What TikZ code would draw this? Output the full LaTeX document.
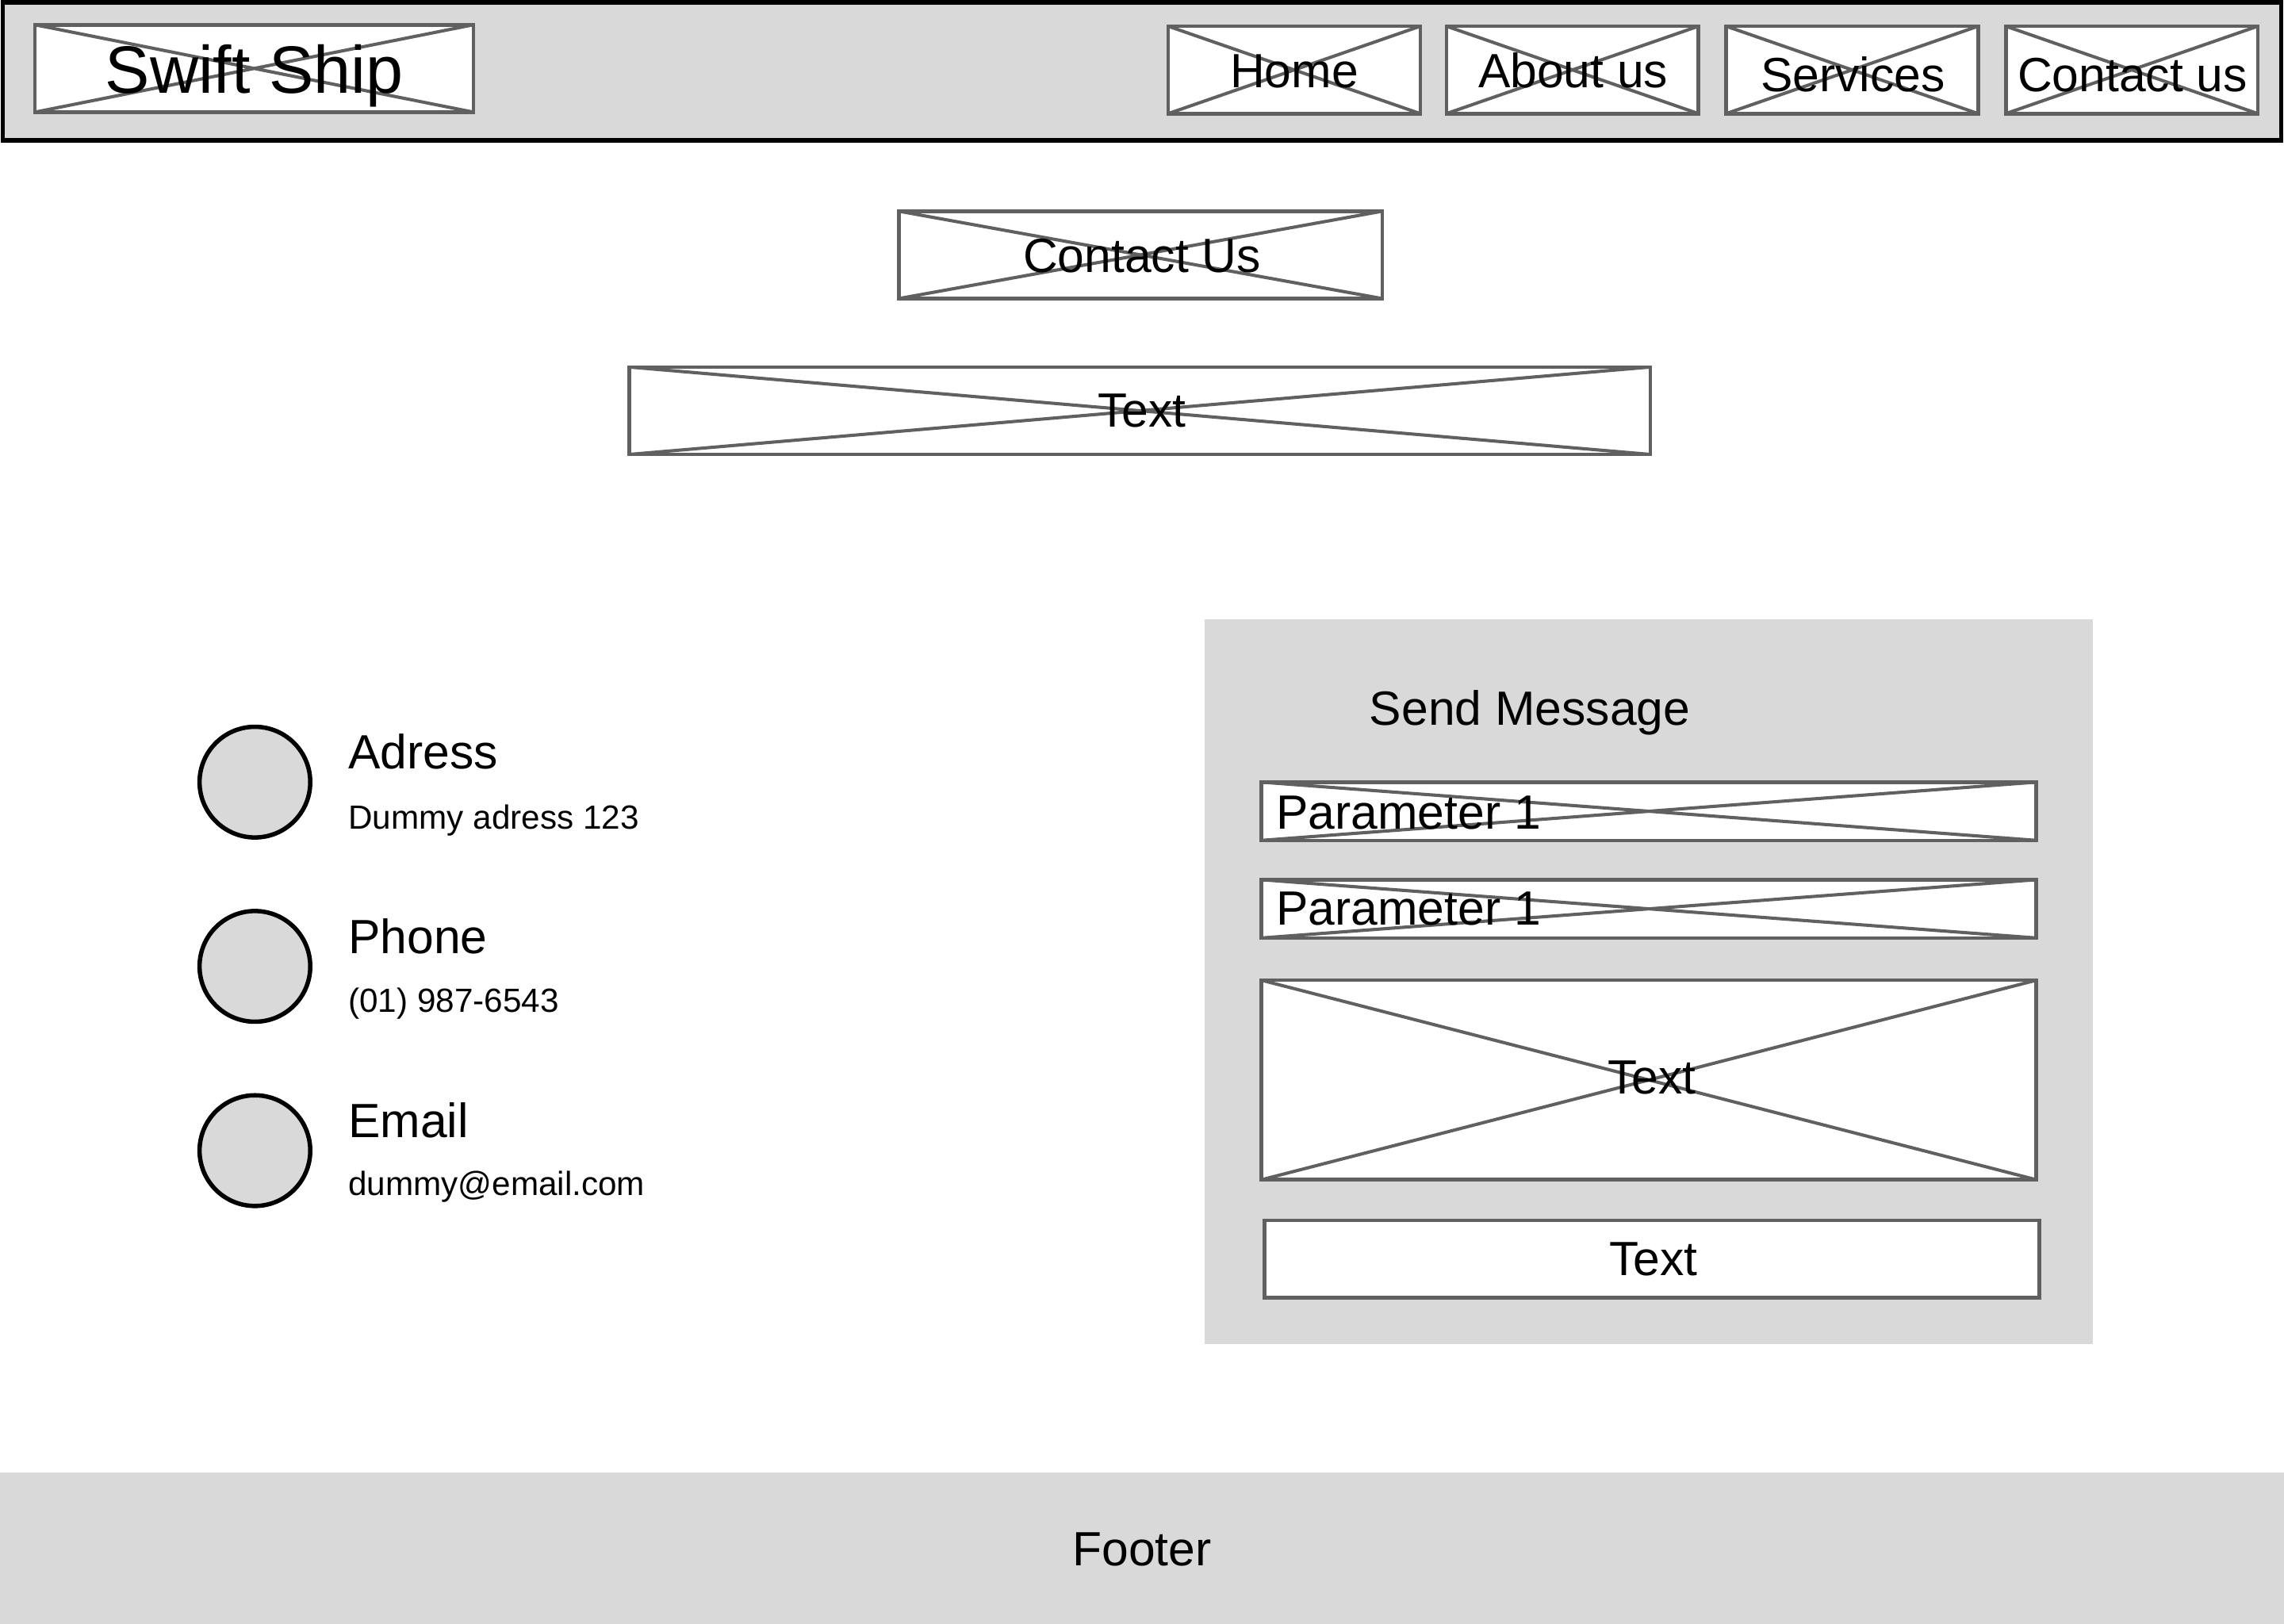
\documentclass[tikz,border=0pt]{standalone}
\usepackage{fontspec}
\setmainfont{Liberation Sans}
\definecolor{panel}{HTML}{D9D9D9}
\definecolor{wire}{HTML}{606060}
\tikzset{
  xbox/.style={draw=wire, fill=white, line width=2.5pt, inner sep=0pt, outer sep=0pt,
    path picture={\draw[wire, line width=2.2pt]
      (path picture bounding box.north west) -- (path picture bounding box.south east)
      (path picture bounding box.south west) -- (path picture bounding box.north east);}},
  plainbox/.style={draw=wire, fill=white, line width=2.5pt, inner sep=0pt, outer sep=0pt},
  dot/.style={circle, draw=black, fill=panel, line width=3pt, minimum size=76pt, inner sep=0pt},
  big/.style={font=\fontsize{33}{40}\selectfont, inner sep=0pt, anchor=base},
  small/.style={font=\fontsize{23}{28}\selectfont, inner sep=0pt, anchor=base west},
}
\begin{document}
\begin{tikzpicture}[x=1pt,y=-1pt]
\useasboundingbox (0,0) rectangle (1568,1115);
% header
\node[draw=black, fill=panel, line width=3pt, minimum width=1564pt, minimum height=95pt, inner sep=0pt] (header) at (784,49) {};
\node[xbox, minimum width=301pt, minimum height=60pt] (logo) at (174.5,47) {};
\node[font=\fontsize{46}{52}\selectfont, inner sep=0pt, anchor=base] (logot) at (174.5,64) {Swift Ship};
\node[xbox, minimum width=173pt, minimum height=60pt] (home) at (888.5,48) {};
\node[xbox, minimum width=173pt, minimum height=60pt] (about) at (1079.5,48) {};
\node[xbox, minimum width=173pt, minimum height=60pt] (serv) at (1271.5,48) {};
\node[xbox, minimum width=173pt, minimum height=60pt] (cont) at (1463.5,48) {};
\node[big] (homet) at (888.5,60) {Home};
\node[big] (aboutt) at (1080,60) {About us};
\node[big] (servt) at (1272,63) {Services};
\node[big] (contt) at (1464,63) {Contact us};
% title
\node[xbox, minimum width=332pt, minimum height=60pt] (title) at (783,175) {};
\node[big] (titlet) at (784,187) {Contact Us};
\node[xbox, minimum width=701pt, minimum height=60pt] (sub) at (782.5,282) {};
\node[big] (subt) at (784,293) {Text};
% contact info
\node[dot] (c1) at (175,537) {};
\node[dot] (c2) at (175,663.5) {};
\node[dot] (c3) at (175,790) {};
\node[big, anchor=base west] (l1) at (239,528) {Adress};
\node[small] (v1) at (239,569) {Dummy adress 123};
\node[big, anchor=base west] (l2) at (239,654.5) {Phone};
\node[small] (v2) at (239,695) {(01) 987-6543};
\node[big, anchor=base west] (l3) at (239,781) {Email};
\node[small] (v3) at (239,821) {dummy@email.com};
% form
\fill[panel] (827,425) rectangle (1437,923);
\node[big, anchor=base west] (sendt) at (940,498) {Send Message};
\node[xbox, minimum width=532pt, minimum height=40pt] (p1) at (1132,557) {};
\node[big, anchor=base west] (p1t) at (876,569) {Parameter 1};
\node[xbox, minimum width=532pt, minimum height=40pt] (p2) at (1132,624) {};
\node[big, anchor=base west] (p2t) at (876,635) {Parameter 1};
\node[xbox, minimum width=532pt, minimum height=137pt] (msg) at (1132,741.5) {};
\node[big] (msgt) at (1134,751) {Text};
\node[plainbox, minimum width=532pt, minimum height=53pt] (btn) at (1134,864.5) {};
\node[big] (btnt) at (1135,876) {Text};
% footer
\fill[panel] (0,1011) rectangle (1568,1115);
\node[big] (foot) at (784,1075) {Footer};
\end{tikzpicture}
\end{document}
